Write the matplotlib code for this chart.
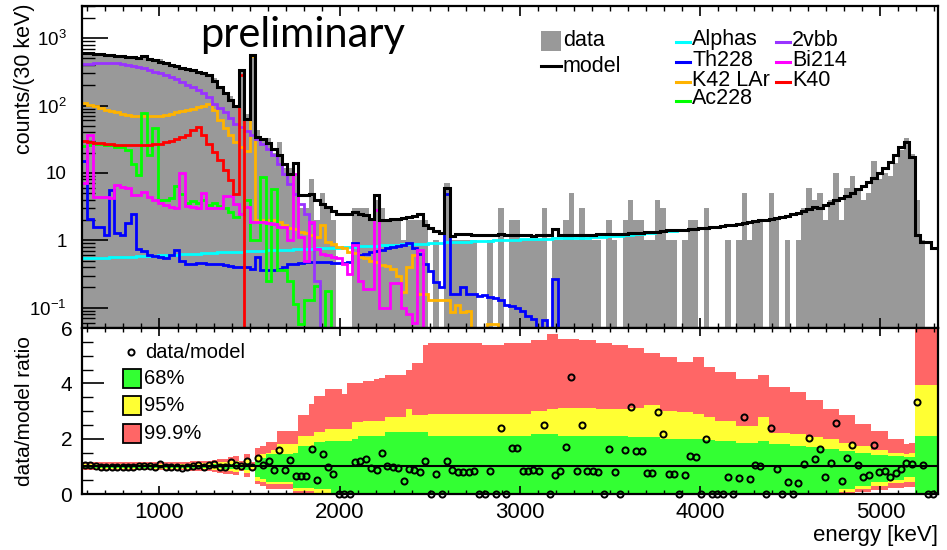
import numpy as np
import matplotlib
matplotlib.use('Agg')
import matplotlib.pyplot as plt
from matplotlib.patches import Rectangle
from matplotlib.lines import Line2D
from matplotlib.ticker import FixedLocator, NullFormatter, MultipleLocator, FixedFormatter

plt.rcParams['font.family'] = ['Liberation Sans', 'DejaVu Sans']
plt.rcParams['mathtext.fontset'] = 'custom'
plt.rcParams['mathtext.rm'] = 'Liberation Sans'
plt.rcParams['mathtext.it'] = 'Liberation Sans:italic'
plt.rcParams['mathtext.bf'] = 'Liberation Sans:bold'

# ---------------- data ----------------
BIN_LO = 570
BIN_W = 30
N_BINS = 159
X_MAX = 5320

data = [633, 628, 602, 564, 559, 545, 539, 535, 520, 510,
        530, 556, 495, 461, 486, 421, 389, 376, 339, 347,
        340, 330, 299, 292, 252, 186, 149, 139, 101, 347,
        76, 550, 44, 33, 33, 20, 29, 12, 12, 9,
        3, 3, 8, 2, 5, 3, 2, 0, 0, 0,
        3, 3, 3, 2, 4, 3, 2, 2, 2, 1,
        2, 2, 2, 2, 0, 1, 0, 7, 1, 1,
        1, 1, 1, 0, 0, 1, 0, 3, 0, 2,
        2, 1, 1, 1, 1, 3, 0, 1, 1, 2,
        5, 1, 3, 1, 1, 1, 0, 2, 1, 0,
        2, 4, 2, 2, 1, 1, 4, 3, 1, 1,
        0, 1, 2, 2, 0, 3, 0, 0, 0, 1,
        0, 1, 5, 1, 2, 2, 0, 5, 2, 0,
        1, 0, 1, 3, 6, 4, 5, 2, 4, 10,
        2, 6, 9, 6, 4, 5, 15, 8, 10, 9,
        14, 22, 33, 19, 4, 1, 0, 0, 0]

model = [600, 595, 590, 575, 565, 556, 550, 540, 525, 520,
         515, 545, 485, 470, 450, 430, 405, 380, 365, 350,
         333, 320, 305, 281, 233, 188, 152, 122, 97, 340,
         64, 556, 34, 32, 28, 23, 18.2, 13.7, 9.8, 14,
         4.65, 4.65, 4.9, 3.9, 3.5, 3.1, 2.7, 2.5, 2.5, 2.5,
         2.6, 2.5, 2.4, 2.1, 4.65, 2.03, 2.0, 2.05, 2.1, 2.15,
         2.2, 2.3, 2.5, 1.67, 1.5, 1.36, 1.3, 5.9,
         1.15, 1.25, 1.25, 1.25, 1.2, 1.2, 1.2, 1.22, 1.22, 1.25,
         1.2, 1.19, 1.2, 1.18, 1.2, 1.17, 1.18, 1.2, 1.18, 1.45,
         1.18, 1.18, 1.18, 1.18, 1.2, 1.21, 1.22, 1.23, 1.23, 1.23,
         1.24, 1.25,
         1.26, 1.27, 1.28, 1.29, 1.31, 1.33, 1.35, 1.38, 1.41, 1.4,
         1.42, 1.44, 1.47, 1.49, 1.5, 1.52, 1.55, 1.58, 1.62, 1.66,
         1.7, 1.74, 1.8, 1.86, 1.92, 1.97, 2.03, 2.1, 2.17, 2.23,
         2.3, 2.42, 2.56, 2.75, 2.95, 3.15, 3.05, 3.3, 3.6, 3.9,
         4.2, 4.6, 5.1, 5.7, 6.5, 7.4, 8.5, 9.9, 11.8, 14.5,
         18.5, 24, 29, 17.5, 1.2, 0.95, 0.94, 0.78, 0.76]

alphas = [0.54, 0.54, 0.55, 0.55, 0.55, 0.56, 0.56, 0.56, 0.57, 0.57,
          0.58, 0.58, 0.58, 0.59, 0.6, 0.6, 0.61, 0.61, 0.62, 0.62,
          0.63, 0.63, 0.64, 0.65, 0.65, 0.66, 0.66, 0.67, 0.67, 0.68,
          0.69, 0.69, 0.7, 0.7, 0.71, 0.71, 0.72, 0.72, 0.73, 0.74,
          0.74, 0.75, 0.75, 0.76, 0.77, 0.77, 0.78, 0.78, 0.79, 0.8,
          0.8, 0.81, 0.82, 0.83, 0.83, 0.84, 0.85, 0.85, 0.86, 0.87,
          0.87, 0.88, 0.88, 0.89, 0.9, 0.91, 0.92, 0.93, 0.94, 0.95,
          0.96, 0.96, 0.97, 0.98, 0.98, 0.99, 1.0, 1.0, 1.01, 1.01,
          1.02, 1.03, 1.03, 1.04, 1.05, 1.05, 1.06, 1.07, 1.07, 1.08,
          1.08, 1.09, 1.1, 1.1, 1.11, 1.12, 1.13, 1.14, 1.15, 1.17,
          1.19, 1.21, 1.23, 1.25, 1.28, 1.3, 1.33, 1.36, 1.39, 1.39,
          1.42, 1.44, 1.47, 1.49, 1.5, 1.52, 1.55, 1.58, 1.62, 1.66,
          1.7, 1.74, 1.8, 1.86, 1.92, 1.97, 2.03, 2.1, 2.17, 2.23,
          2.3, 2.42, 2.56, 2.75, 2.95, 3.15, 3.05, 3.3, 3.6, 3.9,
          4.2, 4.6, 5.1, 5.7, 6.5, 7.4, 8.5, 9.9, 11.8, 14.5,
          18.5, 24, 29, 17.5, 1.2, 0.95, 0.94, 0.78, 0.76]

th228 = ([15, 2.1, 1.56, 1.56, 1.2, 5.5, 1.3, 1.2, 1.8, 2.5,
          0.75, 0.7, 0.6, 0.58, 0.56, 0.55, 0.6, 0.72, 0.5, 0.45,
          0.45, 0.46, 0.46, 0.45, 0.45, 0.44, 0.43, 0.42, 0.4, 0.4,
          0.4, 0.38, 0.56, 0.36, 0.36, 0.36, 0.38, 0.4, 0.44, 0.45,
          0.46, 0.47, 0.48, 0.48, 0.48, 0.47, 0.46, 0.46, 0.46, 0.47,
          0.9, 0.6, 0.62, 0.66, 0.7, 0.73, 0.76, 0.79, 0.82, 0.85,
          0.9, 0.78, 0.62, 0.45, 0.35, 0.24, 0.2, 4.8, 0.16, 0.16,
          0.2, 0.16, 0.16, 0.15, 0.155, 0.145, 0.14, 0.13, 0.11, 0.105,
          0.1, 0.09, 0.075, 0.068, 0, 0.065, 0, 0.27, 0, 0]
         + [0] * 69)

k42 = ([108, 102, 97, 92, 87, 83, 79, 76, 73, 71,
        70, 69, 69, 70, 71, 73, 76, 79, 82, 86,
        90, 95, 100, 106, 85, 62, 46, 36, 29, 24,
        21, 540,
        2.0, 2.0, 2.0, 2.0, 1.9, 1.67, 1.5, 1.45, 1.33, 1.27,
        1.2, 1.12, 1.67, 0.95, 0.89, 0.8, 0.78, 0.67, 0.65, 0.57,
        0.55, 0.5, 0.47, 0.43, 0.42,
        0.38, 0.3, 0.17, 0.4, 0.6, 0.16, 0.16, 0.13, 0.13, 0.13,
        0.13, 0.085, 0.11, 0.085, 0.09, 0, 0, 0, 0.058, 0.058]
       + [0] * 82)

k40 = ([30, 29, 28, 27.5, 27, 26.5, 26, 26, 26, 26,
        26, 26, 26, 26.5, 27, 28.5, 30, 32, 34, 37,
        43, 48, 36, 27, 20.4, 15.4, 10.9, 7.8, 4.9, 281]
       + [0] * 129)

ac228 = ([25, 26, 26.5, 26.5, 26, 26, 24.5, 24, 21.6, 13.7,
          9.2, 78, 18.2, 47,
          3.9, 3.9, 4.2, 6.5, 4.8, 3.6, 3.8, 3.6, 3.9, 3.3,
          3.6, 3.2, 3.0, 2.6, 2.2, 2.5, 4.0,
          1.0, 1.0, 8.7, 0.25, 5.8, 0.36, 0.36, 0.25, 0.115, 0.058,
          0.13, 0.13, 0.21, 0, 0.18, 0]
         + [0] * 112)

bi214 = ([7, 36, 4.4, 4.4, 4.4, 4.3, 6.6, 6.2, 6.0, 4.7,
          4.7, 5.2, 4.4, 3.9, 3.6, 3.3, 3.1, 3.0, 9.9, 3.2,
          3.1, 3.0, 5.0, 3.0, 3.0, 3.0, 4.6, 4.6, 3.5,
          2.5, 3.1, 1.9, 1.87, 1.85, 1.8, 1.75, 1.6, 1.55, 1.0,
          9.8, 1.12, 0.5, 1.87, 0.75, 0.63, 0.6, 0.57, 0.55, 0.45,
          0.32, 0.84, 0.25, 0.19, 0.19, 2.8, 0.1, 0.1,
          0.23, 0.23, 0.1, 0.08, 0.06, 0.71]
         + [0] * 96)

vbb2 = ([408, 420, 428, 430, 430, 428, 422, 413, 400, 388,
         375, 360, 335, 318, 300, 283, 265, 245, 225, 205,
         190, 170, 152, 133, 106, 92, 79, 66, 54, 48,
         42, 36, 32,
         27, 23, 18.2, 13.7, 9.8, 6.9, 4.9, 3.5, 2.5, 1.8, 0.25]
        + [0] * 115)

# ratio-panel probability bands (ratio units)
g_hi = ([1.05] * 20 + [1.06] * 4 + [1.07, 1.08, 1.08, 1.09, 1.1, 1.05, 1.13, 1.04]
        + [1.2, 1.3] + [1.44] * 5 + [1.5] + [1.75] * 3 + [1.87] * 2 + [1.93] * 5
        + [2.0] + [2.1] * 5 + [2.23] * 8 + [2.1] * 19 + [2.17] * 5 + [2.1] * 7
        + [2.08] * 6 + [2.05] * 6 + [2.0] * 6 + [1.99] * 2 + [1.95] * 2 + [1.9] * 4
        + [1.85] * 4 + [1.93] * 2 + [1.8] * 4 + [1.75] * 3 + [1.7] * 3 + [1.62] * 3
        + [1.55] * 3 + [1.48] * 3 + [1.42] * 3 + [1.36] * 3 + [1.32, 1.35] + [2.1] * 5)
y_hi = ([1.09] * 10 + [1.1] * 10 + [1.11] * 4 + [1.13, 1.15, 1.16, 1.18, 1.2, 1.11, 1.26, 1.09]
        + [1.38, 1.45, 1.5, 1.6, 1.8, 1.8, 1.8, 1.8] + [2.1] * 3 + [2.23] * 2 + [2.35] * 5
        + [2.6] * 2 + [2.65] * 4 + [2.78] * 4 + [3.08] + [2.84] * 3 + [2.9] * 19
        + [3.0] * 3 + [3.08] * 2 + [3.1] * 7 + [3.08] * 6 + [3.1] * 3 + [3.2] * 3
        + [3.0] * 3 + [2.96] * 3 + [2.9] * 2 + [2.8] * 2 + [2.65] * 4 + [2.45] * 4
        + [2.78] * 2 + [2.2] * 4 + [2.17] * 3 + [2.05] * 3 + [1.99] * 3 + [1.85] * 3
        + [1.72] * 3 + [1.6] * 3 + [1.5] * 3 + [1.44, 1.5] + [3.93] * 5)
r_hi = ([1.15] * 10 + [1.16] * 10 + [1.19] * 4 + [1.23, 1.25, 1.28, 1.32, 1.36, 1.19, 1.45, 1.14]
        + [1.65, 1.75, 1.87, 1.87, 2.27, 2.27, 2.27, 2.27] + [2.84, 2.84, 3.26]
        + [3.53] * 2 + [3.8] * 3 + [3.6] + [4.0]
        + [4.0] * 2 + [4.1] * 2 + [4.17] + [4.2] + [4.3] * 4 + [4.5] + [4.74] * 2 + [5.38]
        + [5.44] * 10 + [5.38] * 4 + [5.44] * 5 + [5.56] * 3 + [5.8] * 2 + [5.62] * 4
        + [5.56] * 3 + [5.44] * 3 + [5.38] * 3 + [5.26] * 3 + [5.08] * 3 + [4.96] * 3
        + [4.78] * 3 + [4.96] * 2 + [4.6] * 2 + [4.41] * 4 + [4.17] * 4 + [4.3] * 2
        + [3.87] * 4 + [3.68] * 3 + [3.38] * 3 + [3.08] * 3 + [2.84] * 3 + [2.53] * 3
        + [2.29] * 3 + [1.99] * 3 + [1.8, 1.85] + [6.0] * 5)
g_lo = ([0.95] * 20 + [0.94] * 4 + [0.93, 0.93, 0.92, 0.91, 0.9, 0.95, 0.88, 0.96]
        + [0.6, 0.55, 0.44, 0.44, 0.44, 0.44, 0.44, 0.23] + [0.23] * 3 + [0.17] * 3
        + [0.0] * 94 + [0.17] * 3 + [0.3] * 3 + [0.42] * 3 + [0.52] * 3 + [0.62, 0.6] + [0.0] * 5)
y_lo = ([0.91] * 10 + [0.9] * 10 + [0.89] * 4 + [0.87, 0.86, 0.84, 0.82, 0.8, 0.9, 0.76, 0.92]
        + [0.47, 0.42, 0.35, 0.35, 0.35, 0.35, 0.35, 0.11] + [0.11] * 3 + [0.05] * 3
        + [0.0] * 94 + [0.08] * 3 + [0.18] * 3 + [0.28] * 3 + [0.38] * 3 + [0.45, 0.45] + [0.0] * 5)
r_lo = ([0.86] * 10 + [0.85] * 10 + [0.82] * 4 + [0.79, 0.77, 0.74, 0.71, 0.68, 0.83, 0.62, 0.87]
        + [0.35, 0.3, 0.17, 0.17, 0.17, 0.17, 0.17, 0.0] + [0.0] * 3 + [0.0] * 3
        + [0.0] * 94 + [0.02] * 3 + [0.06] * 3 + [0.13] * 3 + [0.2] * 3 + [0.27, 0.27] + [0.0] * 5)

components = [
    ("Alphas", alphas, "#00ffff"),
    ("Th228", th228, "#0000ff"),
    ("K42 LAr", k42, "#ffb300"),
    ("Ac228", ac228, "#00ff00"),
    ("2vbb", vbb2, "#9933ff"),
    ("Bi214", bi214, "#ff00ff"),
    ("K40", k40, "#ff0000"),
]

for name, arr in [("data", data), ("model", model)] + [(c[0], c[1]) for c in components] + \
        [("g_hi", g_hi), ("y_hi", y_hi), ("r_hi", r_hi), ("g_lo", g_lo), ("y_lo", y_lo), ("r_lo", r_lo)]:
    assert len(arr) == N_BINS, (name, len(arr))

edges = BIN_LO + BIN_W * np.arange(N_BINS + 1)
centers = edges[:-1] + BIN_W / 2.0
data_a = np.array(data, float)
model_a = np.array(model, float)

W, H = 947, 550
fig = plt.figure(figsize=(W / 100, H / 100), dpi=100)

def fx(x):
    return x / W

def fy(y):
    return 1 - y / H

L, R = 82, 938
T1, B1, B2 = 6, 328, 494
ax1 = fig.add_axes([fx(L), fy(B1), (R - L) / W, (B1 - T1) / H])
ax2 = fig.add_axes([fx(L), fy(B2), (R - L) / W, (B2 - B1) / H])

GRAY = "#999999"

# ---------------- top panel ----------------
ax1.set_yscale("log")
fill_vals = np.where(data_a > 0, data_a, 1e-4)
ax1.stairs(fill_vals, edges, baseline=1e-4, fill=True, color=GRAY, lw=0, zorder=1)
for name, arr, col in components:
    ax1.stairs(np.array(arr, float), edges, baseline=None, color=col, lw=2.0, zorder=2)
ax1.stairs(model_a, edges, baseline=None, color="black", lw=2.2, zorder=3)

ax1.set_xlim(BIN_LO, X_MAX)
ax1.set_ylim(0.05, 3000)
ax1.yaxis.set_major_locator(FixedLocator([0.1, 1, 10, 100, 1000]))
ax1.yaxis.set_major_formatter(FixedFormatter(["$10^{-1}$", "1", "10", "$10^{2}$", "$10^{3}$"]))
minor_y = [m * 10.0 ** e for e in range(-2, 4) for m in range(2, 10)]
ax1.yaxis.set_minor_locator(FixedLocator(minor_y))
ax1.yaxis.set_minor_formatter(NullFormatter())
ax1.xaxis.set_major_locator(MultipleLocator(1000))
ax1.xaxis.set_minor_locator(MultipleLocator(100))
ax1.tick_params(axis="x", which="both", direction="in", top=True, bottom=True, labelbottom=False)
ax1.tick_params(axis="x", which="major", length=7, width=1.2)
ax1.tick_params(axis="x", which="minor", length=3.5, width=1.0)
ax1.tick_params(axis="y", which="both", direction="in", left=True, right=False, labelsize=13.5, pad=11)
ax1.tick_params(axis="y", which="major", length=19, width=1.2)
ax1.tick_params(axis="y", which="minor", length=9.5, width=1.0)
for s in ax1.spines.values():
    s.set_linewidth(1.6)

# ---------------- ratio panel ----------------
ax2.stairs(r_hi, edges, baseline=r_lo, fill=True, color="#ff6666", lw=0, zorder=1)
ax2.stairs(y_hi, edges, baseline=y_lo, fill=True, color="#ffff33", lw=0, zorder=1.1)
ax2.stairs(g_hi, edges, baseline=g_lo, fill=True, color="#33ff33", lw=0, zorder=1.2)
ax2.axhline(1.0, color="black", lw=1.5, zorder=2)
ratio = data_a / model_a
vis = centers < X_MAX
ax2.plot(centers[vis], ratio[vis], "o", mfc="none", mec="black", ms=4.4, mew=1.4,
         clip_on=False, zorder=4)
ax2.set_xlim(BIN_LO, X_MAX)
ax2.set_ylim(0, 6)
ax2.xaxis.set_major_locator(MultipleLocator(1000))
ax2.xaxis.set_minor_locator(MultipleLocator(100))
ax2.yaxis.set_major_locator(MultipleLocator(2))
ax2.yaxis.set_minor_locator(MultipleLocator(0.5))
ax2.tick_params(axis="x", which="both", direction="in", top=True, bottom=True, labelsize=16, pad=6)
ax2.tick_params(axis="x", which="major", length=6, width=1.2)
ax2.tick_params(axis="x", which="minor", length=3, width=1.0)
ax2.tick_params(axis="y", which="both", direction="in", left=True, right=False, labelsize=15, pad=7)
ax2.tick_params(axis="y", which="major", length=16, width=1.2)
ax2.tick_params(axis="y", which="minor", length=8, width=1.0)
for s in ax2.spines.values():
    s.set_linewidth(1.6)
    s.set_zorder(5)

# ---------------- labels ----------------
fig.text(fx(25), fy(4), "counts/(30 keV)", rotation=90, ha="center", va="top", fontsize=15.5)
fig.text(fx(25), fy(336), "data/model ratio", rotation=90, ha="center", va="top", fontsize=15)
fig.text(fx(R), fy(535), "energy [keV]", ha="right", va="center", fontsize=16)
fig.text(fx(200), fy(47), "preliminary", ha="left", va="baseline", fontsize=30,
         family=["Lato", "DejaVu Sans"])

# top-left legend (data / model)
fig.add_artist(Rectangle((fx(541), fy(51)), 20 / W, 20 / H, transform=fig.transFigure,
                         facecolor=GRAY, edgecolor="none"))
fig.text(fx(563), fy(40), "data", ha="left", va="center", fontsize=15.5)
fig.add_artist(Line2D([fx(541), fx(561)], [fy(66), fy(66)], transform=fig.transFigure,
                      color="black", lw=2.2))
fig.text(fx(563), fy(66), "model", ha="left", va="center", fontsize=15.5)

# component legend
col_x = [676, 776]
rows_y = [40, 60, 80, 99]
layout = [("Alphas", 0, 0), ("Th228", 0, 1), ("K42 LAr", 0, 2), ("Ac228", 0, 3),
          ("2vbb", 1, 0), ("Bi214", 1, 1), ("K40", 1, 2)]
colmap = {c[0]: c[2] for c in components}
for name, c, r in layout:
    x0 = col_x[c]
    y0 = rows_y[r]
    fig.add_artist(Line2D([fx(x0), fx(x0 + 14)], [fy(y0 + 2), fy(y0 + 2)],
                          transform=fig.transFigure, color=colmap[name], lw=2.2))
    fig.text(fx(x0 + 16), fy(y0), name, ha="left", va="center", fontsize=15.5)

# ratio legend
fig.add_artist(Line2D([fx(131)], [fy(352)], transform=fig.transFigure, marker="o",
                      mfc="none", mec="black", ms=4.4, mew=1.4, linestyle="none"))
fig.text(fx(145), fy(352), "data/model", ha="left", va="center", fontsize=14.5)
for yb, colr, lab in [(369, "#33ff33", "68%"), (396, "#ffff33", "95%"), (424, "#ff6666", "99.9%")]:
    fig.add_artist(Rectangle((fx(123), fy(yb + 19)), 18 / W, 19 / H, transform=fig.transFigure,
                             facecolor=colr, edgecolor="black", lw=1.3))
    fig.text(fx(144), fy(yb + 9.5), lab, ha="left", va="center", fontsize=14.5)

fig.savefig("out.png", dpi=100)
